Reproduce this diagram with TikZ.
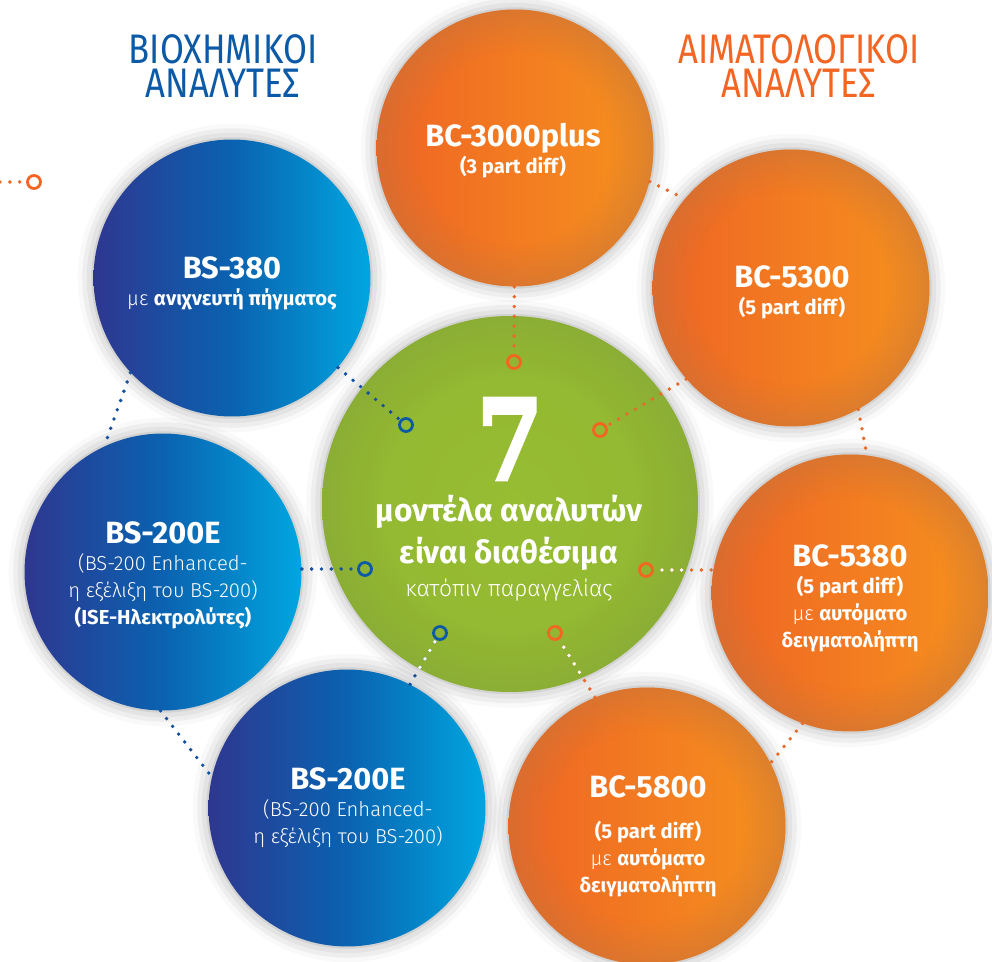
\documentclass[tikz,border=0pt]{standalone}
\usepackage{xcolor}
\usepackage{fontspec}
\setmainfont{Fira Sans}[UprightFont=* Light, BoldFont=* Bold]
\newfontfamily\headfont{Fira Sans}[FakeStretch=0.84]
\newfontfamily\numfont{DejaVu Serif}[FakeStretch=0.85, BoldFeatures={FakeBold=2.5}]
\usepackage{tikz}
\usetikzlibrary{shapes,positioning,calc,shadows.blur,fadings}

\definecolor{bioblue}{HTML}{0C5AA6}
\definecolor{hemaorange}{HTML}{F26522}
\definecolor{blueL}{HTML}{2E3790}
\definecolor{blueM}{HTML}{0A62B0}
\definecolor{blueR}{HTML}{00A6E0}
\definecolor{orangeL}{HTML}{EF6424}
\definecolor{orangeR}{HTML}{F6921E}
\definecolor{orangeRim}{HTML}{C8743A}
\definecolor{greenIn}{HTML}{97BD33}
\definecolor{greenOut}{HTML}{92B731}
\definecolor{greenRim}{HTML}{86A63A}
\definecolor{dotblue}{HTML}{1450A0}
\definecolor{dotorange}{HTML}{EA6A2C}

% darker rim on the balls
\pgfdeclareradialshading{rimshade}{\pgfpoint{0bp}{0bp}}{color(0bp)=(black); color(17bp)=(black); color(25bp)=(white!55!black); color(50bp)=(white!55!black)}
\pgfdeclarefading{rimfade}{\pgfuseshading{rimshade}}

\newcommand{\model}[1]{{\fontsize{17.5}{20}\selectfont\bfseries #1}}

\begin{document}
\begin{tikzpicture}[
    x=0.02cm, y=-0.02cm,
    ball/.style={circle, inner sep=0pt, minimum size=5.54cm, blur shadow={shadow xshift=0pt, shadow yshift=0pt, shadow blur radius=9pt, shadow opacity=35}},
    rim/.style={path picture={\fill[#1, path fading=rimfade] (path picture bounding box.south west) rectangle (path picture bounding box.north east);}},
    bio/.style={ball, left color=blueL, right color=blueR, middle color=blueM},
    hema/.style={ball, left color=orangeL, right color=orangeR, rim=orangeRim},
    hub/.style={ball, minimum size=7.52cm, inner color=greenIn, outer color=greenOut, rim=greenRim},
    ring/.style={circle, draw, line width=1.6pt, minimum size=0.26cm, inner sep=0pt},
    link/.style={line width=2.2pt, line cap=round, dash pattern=on 0pt off 5.6pt},
    txt/.style={text=white, align=center, font=\fontsize{11.5}{15.4}\selectfont},
    head/.style={align=center, font=\headfont\fontsize{23.5}{21}\selectfont}
]
\useasboundingbox (0,0) rectangle (992,962);

% the seven analysers round the hub
\node [hub] (hub) at (510,504) {};
\node [bio] (bs380) at (232,278) {};
\node [bio] (bs200a) at (163,572) {};
\node [bio] (bs200b) at (347,808) {};
\node [hema] (bc3000) at (515,148) {};
\node [hema] (bc5300) at (791,288) {};
\node [hema] (bc5380) at (850,593) {};
\node [hema] (bc5800) at (647,826) {};

\node [ring, draw=hemaorange] (rtop) at (514,362) {};
\node [ring, draw=bioblue] (r380) at (406,425) {};
\node [ring, draw=hemaorange] (r5300) at (600,430) {};
\node [ring, draw=hemaorange] (r5380) at (646,570) {};
\node [ring, draw=hemaorange] (r5800) at (555,633) {};
\node [ring, draw=bioblue] (r200a) at (365,569) {};
\node [ring, draw=bioblue] (r200b) at (440,633) {};
\node [ring, draw=hemaorange] (rleft) at (34,182) {};
\coordinate (edge) at (0,182);

\draw [link, dotorange] (bc3000) -- (rtop);
\draw [link, dotblue] (bs380) -- (r380);
\draw [link, dotorange] (bc5300.221) -- (r5300);
\draw [link, dotorange] (bc5380.west |- r5380) -- (r5380);
\draw [link, dotorange] (bc5800.112) -- (r5800);
\draw [link, dotblue] (bs200a.east |- r200a) -- (r200a);
\draw [link, dotblue] (bs200b.63) -- (r200b);
\draw [link, dotorange] (edge) -- (rleft);

\draw [link, dotorange] (bc3000.-14) -- (bc5300.140);
\draw [link, dotorange] (bc5300.-61) -- (bc5380.83);
\draw [link, dotorange] (bc5380.250) -- (bc5800.27);
\draw [link, dotblue] (bs380.223) -- (bs200a.115);
\draw [link, dotblue] (bs200a.-91) -- (bs200b.167);

% white dots inside the hub
\begin{scope}
\clip (hub.center) circle [radius=3.76cm];
\draw [link, white] (bc5380.west |- r5380) -- (r5380);
\draw [link, white] (bc5800.112) -- (r5800);
\draw [link, white] (bs200b.63) -- (r200b);
\end{scope}

\node [head, text=bioblue] (biohead) at (223,49) {ΒΙΟΧΗΜΙΚΟΙ};
\node [head, text=bioblue, below=-4pt of biohead] (biohead2) {ΑΝΑΛΥΤΕΣ};
\node [head, text=hemaorange] (hemahead) at (799,49) {ΑΙΜΑΤΟΛΟΓΙΚΟΙ};
\node [head, text=hemaorange, below=-4pt of hemahead] (hemahead2) {ΑΝΑΛΥΤΕΣ};

\node [txt] (t380) at (232,283) {\model{BS-380}\\με \textbf{ανιχνευτή πήγματος}};
\node [txt] (t200a) at (163,575) {\model{BS-200E}\\(BS-200 Enhanced-\\η εξέλιξη του BS-200)\\\textbf{(ISE-Ηλεκτρολύτες)}};
\node [txt] (t200b) at (348,808) {\model{BS-200E}\\(BS-200 Enhanced-\\η εξέλιξη του BS-200)};
\node [txt] (t3000) at (513,151) {\model{BC-3000plus}\\\textbf{(3 part diff)}};
\node [txt] (t5300) at (792,292) {\model{BC-5300}\\\textbf{(5 part diff)}};
\node [txt] (t5380) at (850,598) {\model{BC-5380}\\\textbf{(5 part diff)}\\με \textbf{αυτόματο}\\\textbf{δειγματολήπτη}};
\node [txt] (t5800) at (648,836) {\model{BC-5800}\\[8pt]\textbf{(5 part diff)}\\με \textbf{αυτόματο}\\\textbf{δειγματολήπτη}};
\node [txt, anchor=base, font=\numfont\bfseries\fontsize{64}{64}\selectfont] (seven) at (510,480) {7};
\node [txt, font=\fontsize{13}{18.8}\selectfont] (thub) at (509,548) {{\bfseries\fontsize{18}{20}\selectfont μοντέλα αναλυτών}\\[4pt]{\bfseries\fontsize{18}{20}\selectfont είναι διαθέσιμα}\\κατόπιν παραγγελίας};
\end{tikzpicture}
\end{document}
